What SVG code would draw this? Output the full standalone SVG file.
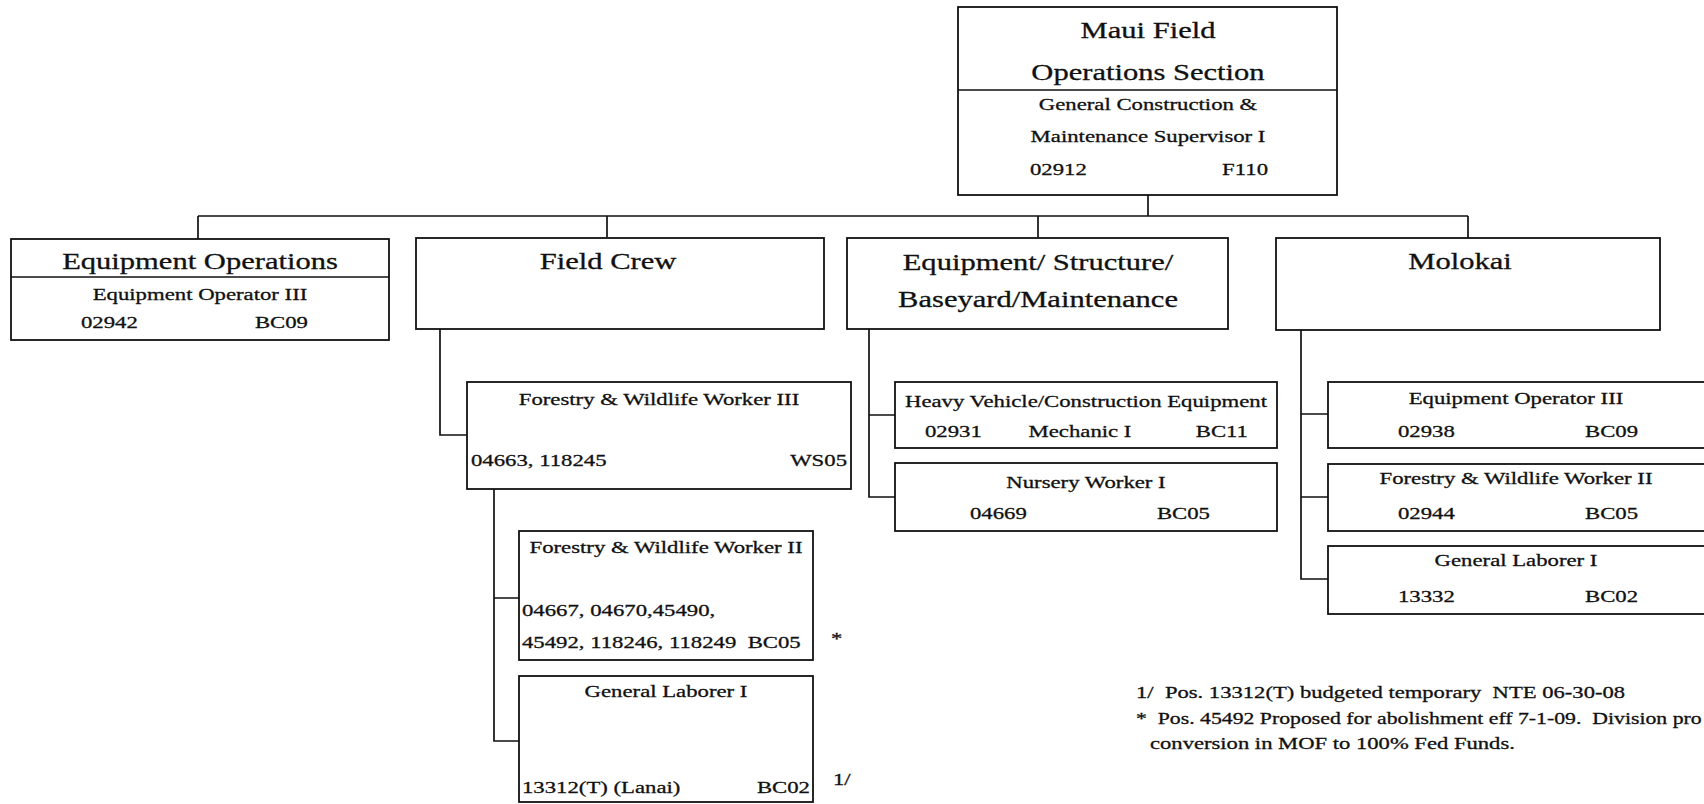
<svg xmlns="http://www.w3.org/2000/svg" width="1704" height="804" viewBox="0 0 1704 804">
<style>
text{font-family:"Liberation Serif","Times New Roman",serif;fill:#111;stroke:#111;stroke-width:0.3;white-space:pre}
.t{font-size:23.5px}
.s{font-size:17.5px}
.f{font-size:17px}
.m{text-anchor:middle}
.e{text-anchor:end}
.box{fill:#fff;stroke:#111;stroke-width:1.8}
.ln{fill:none;stroke:#111;stroke-width:1.7}
</style>
<rect width="1704" height="804" fill="#fff"/>
<g id="connectors" class="ln">
<path d="M1148 195V216M198 216H1468M198 216V239M607 216V237M1038 216V237M1468 216V238"/>
<path d="M440 329V435H467"/>
<path d="M494 489V741H519M494 598H519"/>
<path d="M869 329V497H895M869 415H895"/>
<path d="M1301 330V579H1329M1301 414H1329M1301 497H1329"/>
</g>
<g id="maui-field-operations-section">
<rect class="box" x="958" y="7" width="379" height="188"/>
<line class="ln" x1="958" y1="90" x2="1337" y2="90"/>
<text class="t m" transform="translate(1148 38) scale(1.3 1)">Maui Field</text>
<text class="t m" transform="translate(1148 80) scale(1.3 1)">Operations Section</text>
<text class="s m" transform="translate(1148 110) scale(1.3 1)">General Construction &amp;</text>
<text class="s m" transform="translate(1148 142) scale(1.3 1)">Maintenance Supervisor I</text>
<text class="s" transform="translate(1030 175) scale(1.3 1)">02912</text>
<text class="s e" transform="translate(1268 175) scale(1.3 1)">F110</text>
</g>
<g id="equipment-operations">
<rect class="box" x="11" y="239" width="378" height="101"/>
<line class="ln" x1="11" y1="277" x2="389" y2="277"/>
<text class="t m" transform="translate(200 269) scale(1.3 1)">Equipment Operations</text>
<text class="s m" transform="translate(200 300) scale(1.3 1)">Equipment Operator III</text>
<text class="s" transform="translate(81 328) scale(1.3 1)">02942</text>
<text class="s e" transform="translate(308 328) scale(1.3 1)">BC09</text>
</g>
<g id="field-crew">
<rect class="box" x="416" y="238" width="408" height="91"/>
<text class="t m" transform="translate(608 269) scale(1.3 1)">Field Crew</text>
</g>
<g id="equipment-structure">
<rect class="box" x="847" y="238" width="381" height="91"/>
<text class="t m" transform="translate(1038 270) scale(1.3 1)">Equipment/ Structure/</text>
<text class="t m" transform="translate(1038 307) scale(1.3 1)">Baseyard/Maintenance</text>
</g>
<g id="molokai">
<rect class="box" x="1276" y="238" width="384" height="92"/>
<text class="t m" transform="translate(1460 269) scale(1.3 1)">Molokai</text>
</g>
<g id="fw-worker-iii">
<rect class="box" x="467" y="382" width="384" height="107"/>
<text class="s m" transform="translate(659 405) scale(1.3 1)">Forestry &amp; Wildlife Worker III</text>
<text class="s" transform="translate(471 466) scale(1.3 1)">04663, 118245</text>
<text class="s e" transform="translate(847 466) scale(1.3 1)">WS05</text>
</g>
<g id="fw-worker-ii">
<rect class="box" x="519" y="531" width="294" height="129"/>
<text class="s m" transform="translate(666 553) scale(1.3 1)">Forestry &amp; Wildlife Worker II</text>
<text class="s" transform="translate(522 616) scale(1.3 1)">04667, 04670,45490,</text>
<text class="s" transform="translate(522 648) scale(1.3 1)">45492, 118246, 118249  BC05</text>
<text class="s" transform="translate(831 644) scale(1.3 1)">*</text>
</g>
<g id="general-laborer-lanai">
<rect class="box" x="519" y="676" width="294" height="126"/>
<text class="s m" transform="translate(666 697) scale(1.3 1)">General Laborer I</text>
<text class="s" transform="translate(522 793) scale(1.3 1)">13312(T) (Lanai)</text>
<text class="s e" transform="translate(810 793) scale(1.3 1)">BC02</text>
<text class="s" transform="translate(833 785) scale(1.3 1)">1/</text>
</g>
<g id="heavy-vehicle-mechanic">
<rect class="box" x="895" y="382" width="382" height="66"/>
<text class="s m" transform="translate(1086 407) scale(1.3 1)">Heavy Vehicle/Construction Equipment</text>
<text class="s" transform="translate(925 437) scale(1.3 1)">02931</text>
<text class="s m" transform="translate(1080 437) scale(1.3 1)">Mechanic I</text>
<text class="s e" transform="translate(1248 437) scale(1.3 1)">BC11</text>
</g>
<g id="nursery-worker">
<rect class="box" x="895" y="463" width="382" height="68"/>
<text class="s m" transform="translate(1086 488) scale(1.3 1)">Nursery Worker I</text>
<text class="s" transform="translate(970 519) scale(1.3 1)">04669</text>
<text class="s e" transform="translate(1210 519) scale(1.3 1)">BC05</text>
</g>
<g id="molokai-equipment-operator">
<rect class="box" x="1328" y="382" width="390" height="66"/>
<text class="s m" transform="translate(1516 404) scale(1.3 1)">Equipment Operator III</text>
<text class="s" transform="translate(1398 437) scale(1.3 1)">02938</text>
<text class="s" transform="translate(1585 437) scale(1.3 1)">BC09</text>
</g>
<g id="molokai-fw-worker-ii">
<rect class="box" x="1328" y="464" width="390" height="67"/>
<text class="s m" transform="translate(1516 484) scale(1.3 1)">Forestry &amp; Wildlife Worker II</text>
<text class="s" transform="translate(1398 519) scale(1.3 1)">02944</text>
<text class="s" transform="translate(1585 519) scale(1.3 1)">BC05</text>
</g>
<g id="molokai-general-laborer">
<rect class="box" x="1328" y="546" width="390" height="68"/>
<text class="s m" transform="translate(1516 566) scale(1.3 1)">General Laborer I</text>
<text class="s" transform="translate(1398 602) scale(1.3 1)">13332</text>
<text class="s" transform="translate(1585 602) scale(1.3 1)">BC02</text>
</g>
<g id="footnotes">
<text class="f" transform="translate(1136 698) scale(1.33 1)">1/  Pos. 13312(T) budgeted temporary  NTE 06-30-08</text>
<text class="f" transform="translate(1136 724) scale(1.28 1)">*  Pos. 45492 Proposed for abolishment eff 7-1-09.  Division pro</text>
<text class="f" transform="translate(1150 749) scale(1.33 1)">conversion in MOF to 100% Fed Funds.</text>
</g>
</svg>
